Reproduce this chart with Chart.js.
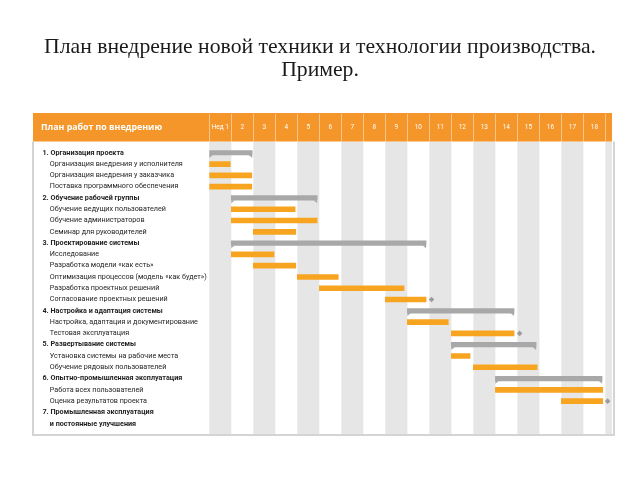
<!DOCTYPE html>
<html lang="ru">
<head>
  <meta charset="UTF-8" />
  <title>План внедрения</title>
  <style>
    body {
      margin: 0;
      background: #fff;
    }

    .wrap {
      position: relative;
      width: 640px;
      height: 480px;
    }

    h1 {
      position: absolute;
      top: 35px;
      left: 0;
      width: 640px;
      margin: 0;
      text-align: center;
      font: normal 21.7px/23px 'Liberation Serif', serif;
      color: #1a1a1a;
    }

    canvas {
      position: absolute;
      left: 0;
      top: 0;
    }
  </style>
</head>
<body>
  <div class="wrap">
    <canvas id="gantt" width="640" height="480"></canvas>
    <h1>План внедрение новой техники и технологии производства.<br>Пример.</h1>
  </div>

  <script src="https://cdn.jsdelivr.net/npm/chart.js"></script>
  <script>
    const headerTitle = 'План работ по внедрению';

    const weekLabels = ['Нед 1', '2', '3', '4', '5', '6', '7', '8', '9', '10',
      '11', '12', '13', '14', '15', '16', '17', '18'];

    const rowLabels = [
      '1. Организация проекта',
      'Организация внедрения у исполнителя',
      'Организация внедрения у заказчика',
      'Поставка программного обеспечения',
      '2. Обучение рабочей группы',
      'Обучение ведущих пользователей',
      'Обучение администраторов',
      'Семинар для руководителей',
      '3. Проектирование системы',
      'Исследование',
      'Разработка модели «как есть»',
      'Оптимизация процессов (модель «как будет»)',
      'Разработка проектных решений',
      'Согласование проектных решений',
      '4. Настройка и адаптация системы',
      'Настройка, адаптация и документирование',
      'Тестовая эксплуатация',
      '5. Развертывание системы',
      'Установка системы на рабочие места',
      'Обучение рядовых пользователей',
      '6. Опытно-промышленная эксплуатация',
      'Работа всех пользователей',
      'Оценка результатов проекта',
      '7. Промышленная эксплуатация',
      'и постоянные улучшения'
    ];
    const boldRows = [0, 4, 8, 14, 17, 20, 23, 24];

    // этапы (серые сводные полосы), в неделях
    const stageRows  = [0, 4, 8, 14, 17, 20];
    const stageStart = [0, 1, 1, 9, 11, 13];
    const stageEnd   = [1.95, 4.9, 9.85, 13.85, 14.85, 17.85];

    // задачи (оранжевые полосы)
    const taskRows  = [1, 2, 3, 5, 6, 7, 9, 10, 11, 12, 13, 15, 16, 18, 19, 21, 22];
    const taskStart = [0, 0, 0, 1, 1, 2, 1, 2, 4, 5, 8, 9, 11, 11, 12, 13, 16];
    const taskEnd   = [0.95, 1.93, 1.93, 3.9, 4.9, 3.93, 2.94, 3.93, 5.86, 8.85, 9.85,
      10.86, 13.85, 11.85, 14.9, 17.88, 17.88];

    // вехи (ромбы)
    const milestoneRows = [13, 16, 22];
    const milestoneAt   = [10.1, 14.1, 18.1];

    const ORANGE_HEAD = '#f5962b';
    const ORANGE_BAR = '#f7a520';
    const GREY_BAR = '#a8a8a8';
    const STRIPE = '#e6e6e6';
    const FRAME_LEFT = 33;
    const LABEL_FONT = 'Roboto';

    const ganttBack = {
      id: 'ganttBack',
      beforeDraw(chart) {
        const { ctx, chartArea: a, scales: { x } } = chart;
        ctx.save();
        // полосы недель
        ctx.fillStyle = STRIPE;
        for (let k = 0; k <= weekLabels.length; k += 2) {
          const x0 = x.getPixelForValue(k);
          const x1 = Math.min(x.getPixelForValue(k + 1), a.right);
          ctx.fillRect(x0, a.top, x1 - x0, a.bottom - a.top);
        }
        // оранжевая шапка
        ctx.fillStyle = ORANGE_HEAD;
        ctx.fillRect(FRAME_LEFT, x.top, a.right - FRAME_LEFT, x.bottom - x.top);
        ctx.strokeStyle = 'rgba(255,255,255,0.45)';
        ctx.lineWidth = 1;
        for (let k = 0; k <= weekLabels.length; k++) {
          const px = Math.round(x.getPixelForValue(k)) + 0.5;
          ctx.beginPath();
          ctx.moveTo(px, x.top + 1);
          ctx.lineTo(px, x.bottom);
          ctx.stroke();
        }
        ctx.fillStyle = '#fff';
        ctx.font = 'bold 8.8px "Open Sans"';
        ctx.textBaseline = 'middle';
        ctx.fillText(headerTitle, 41, (x.top + x.bottom) / 2);
        ctx.restore();
      },
      afterDatasetsDraw(chart) {
        // "ушки" на концах сводных полос
        const { ctx } = chart;
        const meta = chart.getDatasetMeta(0);
        ctx.save();
        ctx.fillStyle = GREY_BAR;
        meta.data.forEach(bar => {
          const yb = bar.y + bar.height / 2;
          const l = Math.min(bar.base, bar.x), r = Math.max(bar.base, bar.x);
          ctx.beginPath();
          ctx.moveTo(l, yb); ctx.lineTo(l + 3.5, yb); ctx.lineTo(l, yb + 3); ctx.fill();
          ctx.beginPath();
          ctx.moveTo(r, yb); ctx.lineTo(r - 3.5, yb); ctx.lineTo(r, yb + 3); ctx.fill();
        });
        ctx.restore();
      },
      afterDraw(chart) {
        const { ctx, chartArea: a, scales: { x } } = chart;
        ctx.save();
        ctx.strokeStyle = '#d4d4d4';
        ctx.lineWidth = 2;
        ctx.beginPath();
        ctx.moveTo(FRAME_LEFT, x.bottom);
        ctx.lineTo(FRAME_LEFT, a.bottom);
        ctx.lineTo(a.right + 2, a.bottom);
        ctx.lineTo(a.right + 2, x.bottom);
        ctx.stroke();
        ctx.restore();
      }
    };

    new Chart(document.getElementById('gantt'), {
      type: 'bar',
      data: {
        datasets: [{
          label: 'Этапы',
          grouped: false,
          data: stageRows.map((r, i) => ({ y: r, x: [stageStart[i], stageEnd[i]] })),
          backgroundColor: GREY_BAR,
          barThickness: 4.5
        }, {
          label: 'Задачи',
          grouped: false,
          data: taskRows.map((r, i) => ({ y: r, x: [taskStart[i], taskEnd[i]] })),
          backgroundColor: ORANGE_BAR,
          barThickness: 5
        }, {
          type: 'scatter',
          label: 'Вехи',
          data: milestoneRows.map((r, i) => ({ x: milestoneAt[i], y: r })),
          pointStyle: 'rectRot',
          radius: 2.8,
          backgroundColor: '#9c9c9c',
          borderWidth: 0
        }]
      },
      options: {
        indexAxis: 'y',
        responsive: false,
        animation: false,
        layout: { padding: { top: 113, left: 42.5, right: 28, bottom: 45 } },
        plugins: {
          legend: { display: false },
          tooltip: { enabled: false }
        },
        scales: {
          x: {
            type: 'linear',
            position: 'top',
            min: 0,
            max: 18.3,
            offset: false,
            bounds: 'data',
            grid: { display: false, drawTicks: false, offset: false },
            border: { display: false },
            afterFit: s => { s.height = 28.5; s.paddingLeft = 0; s.paddingRight = 0; },
            afterBuildTicks: s => { s.ticks = weekLabels.map((_, i) => ({ value: i + 0.5 })); },
            ticks: {
              autoSkip: false,
              maxRotation: 0,
              minRotation: 0,
              padding: 10.3,
              color: '#fff',
              font: { family: LABEL_FONT, size: 6.5 },
              callback: (v, i) => weekLabels[i]
            }
          },
          y: {
            type: 'linear',
            reverse: true,
            min: -1.0,
            max: 25.0,
            offset: false,
            bounds: 'data',
            grid: { display: false, drawTicks: false, offset: false },
            border: { display: false },
            afterFit: s => { s.width = 166.8; s.paddingTop = 0; s.paddingBottom = 0; },
            afterBuildTicks: s => { s.ticks = rowLabels.map((_, i) => ({ value: i })); },
            ticks: {
              autoSkip: false,
              crossAlign: 'far',
              padding: 0,
              color: '#1e1e1e',
              font: ctx => ({
                family: LABEL_FONT,
                size: 7.2,
                weight: boldRows.includes(ctx.index) ? 'bold' : 'normal'
              }),
              callback: v => (/^\d/.test(rowLabels[v]) ? '' : '\u2002\u2002') + rowLabels[v]
            }
          }
        }
      },
      plugins: [ganttBack]
    });
  </script>
</body>
</html>
